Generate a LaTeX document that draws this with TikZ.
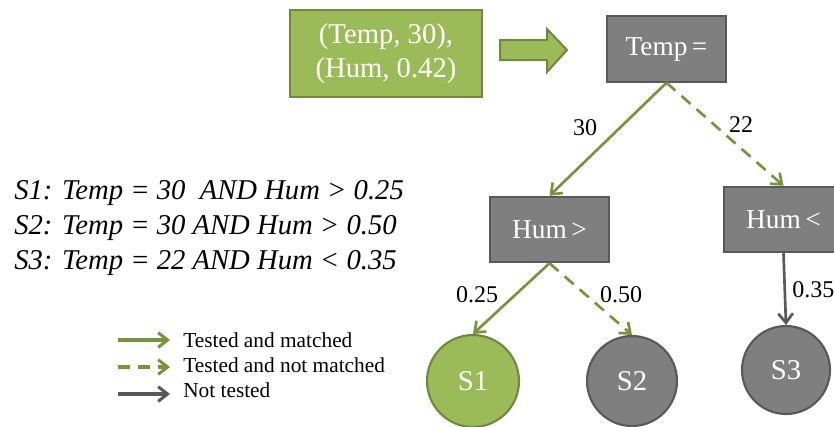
\documentclass[tikz,border=0pt]{standalone}
\usepackage{fontspec}
\setmainfont{Liberation Serif}
\usetikzlibrary{arrows.meta}
\definecolor{gfill}{HTML}{9BBB59}
\definecolor{gline}{HTML}{71893F}
\definecolor{garrow}{HTML}{77933C}
\definecolor{kfill}{HTML}{7F7F7F}
\definecolor{kline}{HTML}{595959}
\tikzset{
  greenbox/.style={draw=gline, fill=gfill, line width=1.6pt, text=white, align=center, inner sep=0pt, font=\fontsize{21.5}{26}\selectfont},
  graybox/.style={draw=kline, fill=kfill, line width=1.6pt, text=white, inner sep=0pt, minimum width=89.25pt, minimum height=49pt, font=\fontsize{20.5}{24}\selectfont},
  leaf/.style={circle, draw=kline, fill=kfill, line width=1.6pt, text=white, inner sep=0pt, minimum size=67.5pt, font=\fontsize{21.5}{24}\selectfont},
  matched/.style={draw=garrow, line width=2pt, -{Straight Barb[length=7pt,width=11pt]}},
  notmatched/.style={matched, dash pattern=on 9pt off 6pt},
  nottested/.style={draw=kline, line width=2pt, -{Straight Barb[length=7pt,width=11pt]}},
  lbl/.style={inner sep=0pt, font=\fontsize{18}{20}\selectfont},
  rule/.style={anchor=west, inner sep=0pt, font=\fontsize{21.5}{26}\selectfont\itshape},
  legtext/.style={anchor=west, inner sep=0pt, font=\fontsize{16}{18}\selectfont}
}
\begin{document}
\begin{tikzpicture}[x=0.75pt,y=-0.75pt]
\useasboundingbox (0,0) rectangle (834,426);
\clip (0,0) rectangle (834,426);
% input box and block arrow
\node[greenbox, minimum width=144pt, minimum height=65.25pt] (input) at (386,53.5) {(Temp, 30),\\(Hum, 0.42)};
\draw[draw=gline, fill=gfill, line width=1.5pt] (500,40) -- (547,40) -- (547,29) -- (567,50) -- (547,72) -- (547,60) -- (500,60) -- cycle;
% tree nodes
\node[graybox] (temp) at (666.5,49) {Temp\,=};
\node[graybox] (humgt) at (549.5,229.5) {Hum\,>};
\node[graybox] (humlt) at (783.5,219.5) {Hum\,<};
\node[leaf, draw=gline, fill=gfill, minimum size=69pt] (s1) at (473,381) {S1};
\node[leaf] (s2) at (632,381) {S2};
\node[leaf, minimum size=66pt] (s3) at (786,370) {S3};
% edges
\draw[matched] (temp.south) -- (humgt.north);
\draw[notmatched] (temp.south) -- (humlt.north);
\draw[matched] (humgt.south) -- (s1.north);
\draw[notmatched] (humgt.south) -- (s2.north);
\draw[nottested] (humlt.south) -- (s3.north);
% edge labels
\node[lbl] (l30) at (585,128) {30};
\node[lbl] (l22) at (741,125) {22};
\node[lbl] (l025) at (477,295) {0.25};
\node[lbl] (l050) at (621,295) {0.50};
\node[lbl, anchor=west] (l035) at (792,290) {0.35};
% rules
\node[rule] (r1) at (14,193) {S1: Temp = 30\ \ AND Hum > 0.25};
\node[rule] (r2) at (14,228) {S2: Temp = 30 AND Hum > 0.50};
\node[rule] (r3) at (14,263) {S3: Temp = 22 AND Hum < 0.35};
% legend
\coordinate (a1) at (118,340); \coordinate (b1) at (170,340);
\coordinate (a2) at (118,367); \coordinate (b2) at (170,367);
\coordinate (a3) at (118,394); \coordinate (b3) at (170,394);
\draw[matched, line width=2.3pt] (a1) -- (b1);
\draw[notmatched, line width=2.3pt] (a2) -- (b2);
\draw[nottested, line width=2.3pt] (a3) -- (b3);
\node[legtext] (t1) at (183,340) {Tested and matched};
\node[legtext] (t2) at (183,365) {Tested and not matched};
\node[legtext] (t3) at (183,390) {Not tested};
\end{tikzpicture}
\end{document}
